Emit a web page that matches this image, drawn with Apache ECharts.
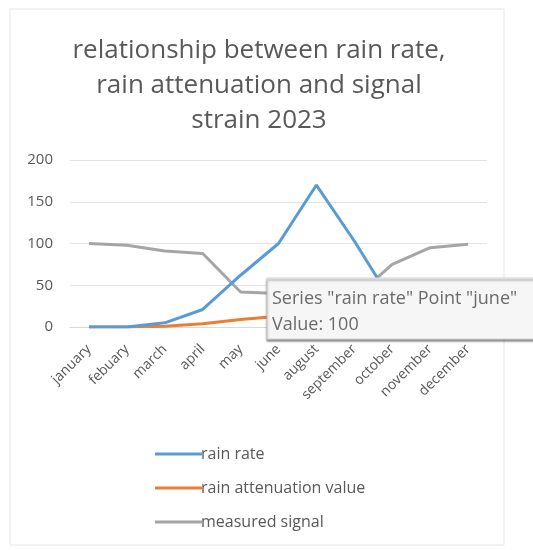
<!DOCTYPE html>
<html><head><meta charset="utf-8">
<script src="https://cdn.jsdelivr.net/npm/echarts@6/dist/echarts.min.js"></script>
<style>html,body{margin:0;padding:0;background:#fff}#c{width:533px;height:550px}</style>
</head><body><div id="c"></div>
<script>
const categories = ['january','febuary','march','april','may','june','august','september','october','november','december'];
const rainRate = [0, 0, 5, 21, 62, 100, 170, 103, 30, 8, 3];
const rainAttenuation = [0, 0, 1, 4, 9, 13, 20, 12, 5, 2, 1];
const measuredSignal = [100, 98, 91, 88, 42, 40, 38, 35, 75, 95, 99];
const yTicks = [0, 50, 100, 150, 200];

const chart = echarts.init(document.getElementById('c'), null, {renderer:'canvas'});
const txt = '#595959';
const font = 'Open Sans';
chart.setOption({
  animation: false,
  backgroundColor: '#fff',
  title: {
    text: 'relationship between rain rate,\nrain attenuation and signal\nstrain 2023',
    left: 254, top: 28, textAlign: 'center',
    textStyle: {fontFamily: font, fontSize: 26, fontWeight: 'normal', color: txt, lineHeight: 35}
  },
  grid: {left: 70, right: 46, top: 160, bottom: 223, containLabel: false},
  xAxis: {
    type: 'category', data: categories, boundaryGap: true,
    axisLine: {show: true, lineStyle: {color: '#d9d9d9'}},
    axisTick: {show: false},
    axisLabel: {rotate: 45, interval: 0, color: txt, fontFamily: font, fontSize: 14, margin: 20}
  },
  yAxis: {
    type: 'value', min: yTicks[0], max: yTicks[yTicks.length-1], interval: 50,
    axisLine: {show: false}, axisTick: {show: false},
    axisLabel: {color: txt, fontFamily: font, fontSize: 15, margin: 17},
    splitLine: {lineStyle: {color: '#e3e3e3'}}
  },
  legend: {
    orient: 'vertical', left: 150, top: 441, itemGap: 18,
    icon: 'rect', itemWidth: 47, itemHeight: 3,
    textStyle: {color: txt, fontFamily: font, fontSize: 16, padding: [0,0,0,-6]},
    data: ['rain rate','rain attenuation value','measured signal']
  },
  series: [
    {name: 'rain rate', type: 'line', data: rainRate, symbol: 'none', lineStyle: {width: 3, color: '#5b9bd5'}, itemStyle: {color: '#5b9bd5'}, z: 3},
    {name: 'rain attenuation value', type: 'line', data: rainAttenuation, symbol: 'none', lineStyle: {width: 3, color: '#ed7d31'}, itemStyle: {color: '#ed7d31'}, z: 2},
    {name: 'measured signal', type: 'line', data: measuredSignal, symbol: 'none', lineStyle: {width: 3, color: '#a5a5a5'}, itemStyle: {color: '#a5a5a5'}, z: 1}
  ],
  graphic: [
    {type: 'rect', shape: {x: 10, y: 9, width: 494, height: 536}, style: {fill: 'none', stroke: '#e6e6e6', lineWidth: 1}, z: 0, silent: true},
    {type: 'rect', zlevel: 1, z: 100, shape: {x: 267, y: 278, width: 280, height: 61}, style: {fill: '#f6f6f6', stroke: '#d4d4d4', lineWidth: 1, shadowBlur: 2, shadowOffsetY: 2, shadowColor: 'rgba(0,0,0,0.45)'}},
    {type: 'text', zlevel: 1, z: 101, x: 272, y: 299, style: {text: 'Series "rain rate" Point "june"', fill: '#6b6b6b', font: '18px "Open Sans"', textVerticalAlign: 'middle'}},
    {type: 'text', zlevel: 1, z: 101, x: 272, y: 325, style: {text: 'Value: 100', fill: '#6b6b6b', font: '18px "Open Sans"', textVerticalAlign: 'middle'}}
  ]
});
</script></body></html>
